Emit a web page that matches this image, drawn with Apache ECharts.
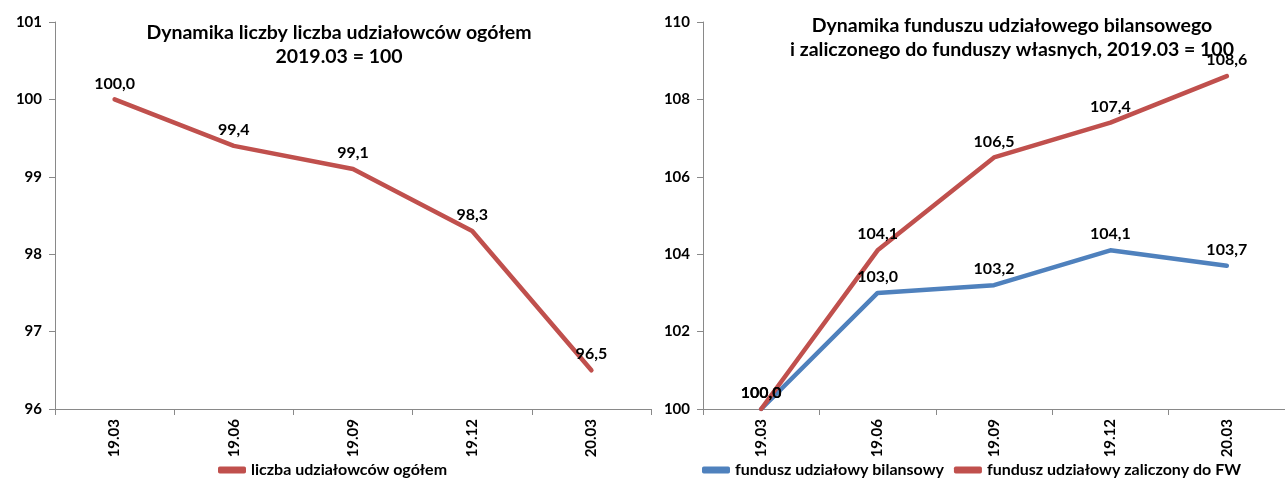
<!DOCTYPE html>
<html>
<head>
<meta charset="utf-8">
<script src="https://cdn.jsdelivr.net/npm/echarts@6/dist/echarts.min.js"></script>
<style>
  html, body { margin: 0; padding: 0; background: #fff; }
  #chart { width: 1285px; height: 483px; }
</style>
</head>
<body>
<div id="chart"></div>
<script>
// Quarters shared by both panels
const quarters = ['19.03', '19.06', '19.09', '19.12', '20.03'];

// Left panel: number of shareholders, index 2019.03 = 100
const shareholders = [100.0, 99.4, 99.1, 98.3, 96.5];

// Right panel: share fund indices, 2019.03 = 100
const fundBalance = [100.0, 103.0, 103.2, 104.1, 103.7];
const fundOwnFunds = [100.0, 104.1, 106.5, 107.4, 108.6];

const leftTitle = ['Dynamika liczby liczba udziałowców ogółem', '2019.03 = 100'];
const rightTitle = ['Dynamika funduszu udziałowego bilansowego', 'i zaliczonego do funduszy własnych, 2019.03 = 100'];

const FONT = 'Lato, "Open Sans", sans-serif';
const RED = '#C0504D';
const BLUE = '#4F81BD';
const AXIS = '#898989';

const fmt = v => v.toFixed(1).replace('.', ',');

function lineSeries(name, data, color, xi) {
  return {
    name, type: 'line', data,
    xAxisIndex: xi, yAxisIndex: xi,
    symbol: 'circle', symbolSize: 0.1,
    itemStyle: { color },
    lineStyle: { color, width: 4.5, cap: 'round', join: 'round' },
    label: {
      show: true, position: 'top', distance: 8,
      color: '#000', fontFamily: FONT, fontWeight: 'bold', fontSize: 16,
      formatter: p => fmt(p.value)
    },
    emphasis: { disabled: true },
    animation: false
  };
}

function xAxis(gi) {
  return {
    gridIndex: gi, type: 'category', data: quarters, boundaryGap: true,
    axisLine: { lineStyle: { color: AXIS, width: 1 } },
    axisTick: { show: true, length: 6, lineStyle: { color: AXIS } },
    axisLabel: { rotate: 90, margin: 10, color: '#000', fontFamily: FONT, fontWeight: 'bold', fontSize: 15 }
  };
}

function yAxis(gi, min, max, interval) {
  return {
    gridIndex: gi, type: 'value', min, max, interval,
    axisLine: { show: true, lineStyle: { color: AXIS, width: 1 } },
    axisTick: { show: true, length: 6, lineStyle: { color: AXIS } },
    splitLine: { show: false },
    axisLabel: { margin: 13, color: '#000', fontFamily: FONT, fontWeight: 'bold', fontSize: 15 }
  };
}

const titleText = { fontFamily: FONT, fontWeight: 'bold', fontSize: 19.5, color: '#000', lineHeight: 24, align: 'center' };
const legendText = { fontFamily: FONT, fontWeight: 'bold', fontSize: 16, color: '#000' };

const chart = echarts.init(document.getElementById('chart'), null, { renderer: 'canvas' });
chart.setOption({
  backgroundColor: '#fff',
  animation: false,
  title: [
    { text: leftTitle.join('\n'), left: 334, top: 16, textAlign: 'center', textStyle: titleText },
    { text: rightTitle.join('\n'), left: 1007, top: 9, textAlign: 'center', textStyle: titleText }
  ],
  grid: [
    { left: 55, right: 634, top: 22, bottom: 74 },
    { left: 703, right: 0, top: 22, bottom: 74 }
  ],
  xAxis: [xAxis(0), xAxis(1)],
  yAxis: [yAxis(0, 96, 101, 1), yAxis(1, 100, 110, 2)],
  legend: [
    {
      data: ['liczba udziałowców ogółem'], left: 213, bottom: 0,
      icon: 'roundRect', itemWidth: 28, itemHeight: 7, itemGap: 10,
      textStyle: legendText
    },
    {
      data: ['fundusz udziałowy bilansowy', 'fundusz udziałowy zaliczony do FW'], left: 697, bottom: 0,
      icon: 'roundRect', itemWidth: 28, itemHeight: 7, itemGap: 10,
      textStyle: legendText
    }
  ],
  series: [
    lineSeries('liczba udziałowców ogółem', shareholders, RED, 0),
    lineSeries('fundusz udziałowy bilansowy', fundBalance, BLUE, 1),
    lineSeries('fundusz udziałowy zaliczony do FW', fundOwnFunds, RED, 1)
  ]
});
</script>
</body>
</html>
